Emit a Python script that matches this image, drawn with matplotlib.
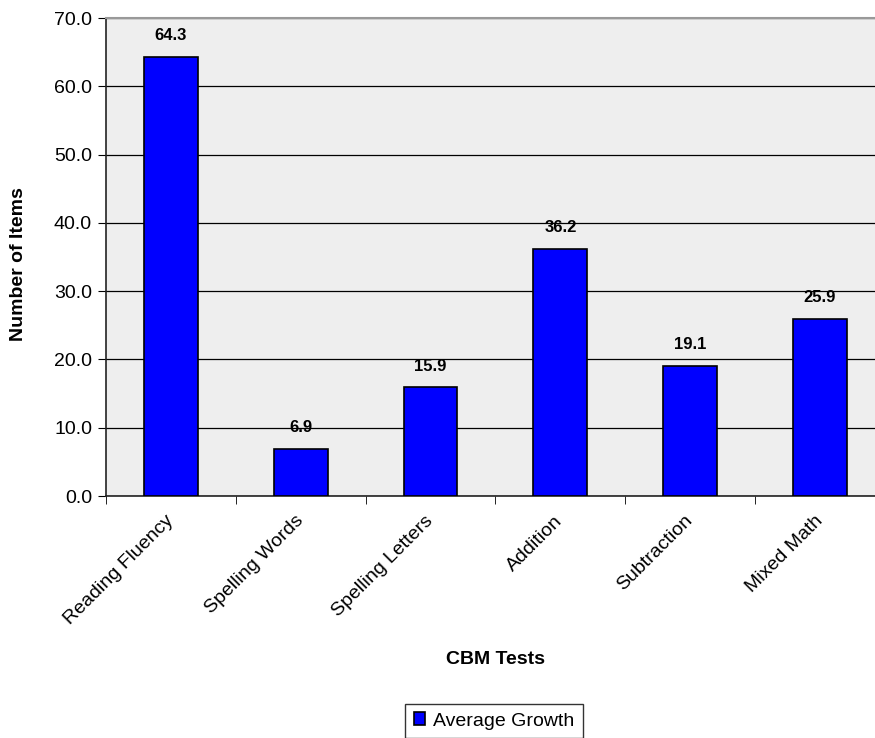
import numpy as np
import matplotlib.pyplot as plt

plt.rcParams['font.family'] = ['Liberation Sans', 'DejaVu Sans']

# data
tests = ['Reading Fluency', 'Spelling Words', 'Spelling Letters', 'Addition', 'Subtraction', 'Mixed Math']
growth = [64.3, 6.9, 15.9, 36.2, 19.1, 25.9]

fig = plt.figure(figsize=(8.75, 7.38), dpi=100)
# plot area runs off the right edge like the original
ax = fig.add_axes([0.1211, 0.3279, 0.8903, 0.6477])
ax.set_facecolor('#EEEEEE')

x = np.arange(len(tests))
ax.bar(x, growth, width=0.415, color='#0000FF', edgecolor='black', linewidth=1.2,
       label='Average Growth', zorder=3)
for xi, v in zip(x, growth):
    ax.text(xi, v + 2.0, f'{v:.1f}', ha='center', va='bottom', fontsize=12, fontweight='bold', zorder=4)

ax.set_xlim(-0.5, len(tests) - 0.5)
ax.set_ylim(0, 70)
yt = np.arange(0, 71, 10)
ax.set_yticks(yt)
ax.set_yticklabels([f'{t:.1f}' for t in yt], fontsize=14)
ax.yaxis.grid(True, color='black', linewidth=0.9, zorder=0)

ax.set_xticks(x)
ax.set_xticklabels(tests, rotation=45, ha='right', va='center', rotation_mode='anchor', fontsize=14)
ax.tick_params(axis='x', length=0, pad=16)
ax.set_xticks(np.arange(-0.5, len(tests), 1), minor=True)
ax.tick_params(axis='x', which='minor', length=6, direction='out')
ax.tick_params(axis='y', length=6, direction='out', pad=4)

ax.spines['top'].set_color('#999999')
ax.spines['top'].set_linewidth(1.5)
ax.spines['right'].set_visible(False)
for s in ['left', 'bottom']:
    ax.spines[s].set_color('#222222')
    ax.spines[s].set_linewidth(1.2)

fig.text(0.021, 1 - 264 / 738, 'Number of Items', rotation=90, ha='center', va='center',
         fontsize=14, fontweight='bold')
fig.text(495 / 875, 1 - 659 / 738, 'CBM Tests', ha='center', va='center', fontsize=14, fontweight='bold')

leg = fig.legend(loc='center', bbox_to_anchor=(494 / 875, 1 - 721 / 738), frameon=True, fancybox=False,
                 edgecolor='black', fontsize=14, handlelength=0.6, handleheight=0.6,
                 handletextpad=0.4, borderpad=0.45, borderaxespad=0)
leg.get_frame().set_linewidth(1.0)

fig.savefig('out.png', dpi=100)
